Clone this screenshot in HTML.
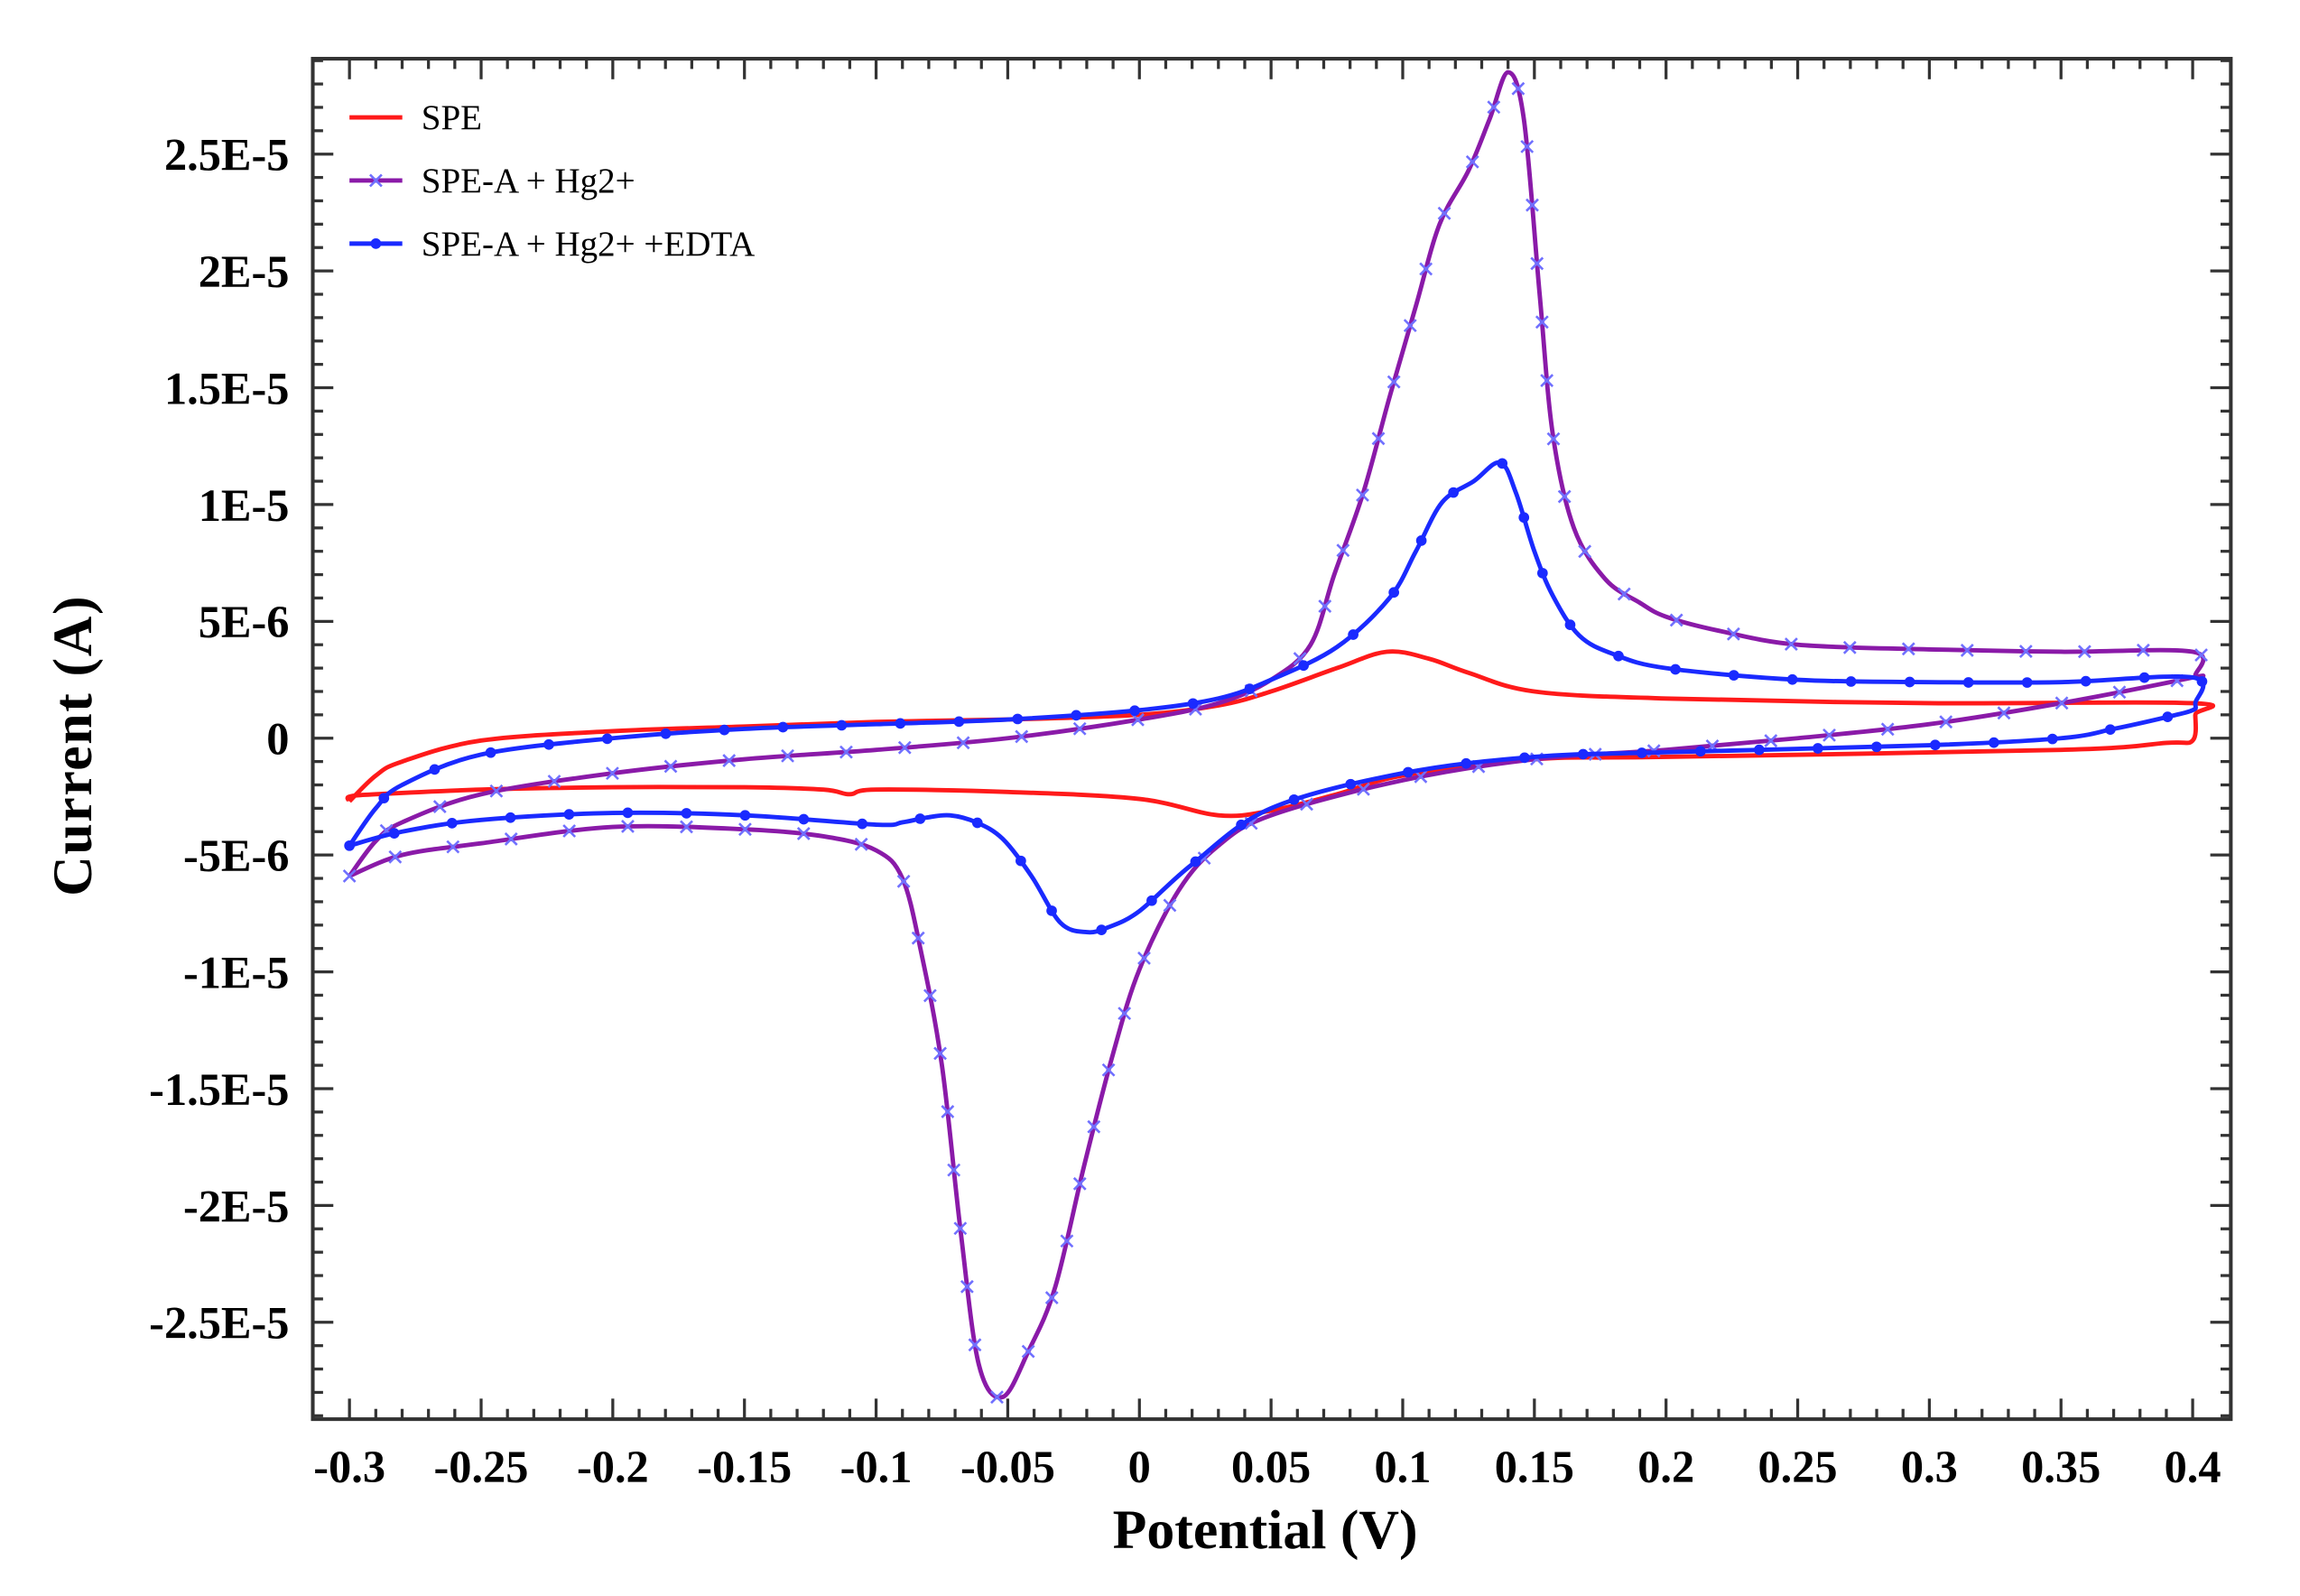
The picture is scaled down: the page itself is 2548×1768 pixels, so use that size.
<!DOCTYPE html>
<html><head><meta charset="utf-8"><style>
html,body{margin:0;padding:0;background:#fff;}
svg{display:block;}
text{font-family:"Liberation Serif",serif;}
</style></head><body>
<svg id="chart" width="2548" height="1768" viewBox="0 0 1567 1087.5" xmlns="http://www.w3.org/2000/svg">
<rect x="0" y="0" width="1567" height="1087.5" fill="#fff"/>
<g id="grid"></g>
<g id="series"></g>
<rect x="213" y="40" width="1307" height="927" fill="none" stroke="#333" stroke-width="2.5"/>
<g id="axes"></g>
<text x="862" y="1055" text-anchor="middle" font-size="38" font-weight="bold">Potential (V)</text>
<text transform="translate(62,508) rotate(-90)" text-anchor="middle" font-size="38" font-weight="bold" letter-spacing="1">Current (A)</text>
<g id="legend"></g>
</svg>
<script>
// ---- data (potential in V, current in µA) ----
const xTicks = [-0.3,-0.25,-0.2,-0.15,-0.1,-0.05,0,0.05,0.1,0.15,0.2,0.25,0.3,0.35,0.4];
const xTickLabels = ["-0.3","-0.25","-0.2","-0.15","-0.1","-0.05","0","0.05","0.1","0.15","0.2","0.25","0.3","0.35","0.4"];
const yTicks = [25,20,15,10,5,0,-5,-10,-15,-20,-25];
const yTickLabels = ["2.5E-5","2E-5","1.5E-5","1E-5","5E-6","0","-5E-6","-1E-5","-1.5E-5","-2E-5","-2.5E-5"];
const seriesNames = ["SPE","SPE-A + Hg2+","SPE-A + Hg2+ +EDTA"];

const speV = [-0.3,-0.29,-0.28,-0.25,-0.2,-0.15,-0.1,-0.05,0,0.03,0.05,0.075,0.094,0.11,0.125,0.15,0.2,0.3,0.4,0.401,0.4,0.39,0.35,0.2,0.15,0.1,0.075,0.05,0.03,0,-0.05,-0.1,-0.11,-0.12,-0.15,-0.2,-0.25,-0.29,-0.3,-0.3];
const speI = [-2.7,-1.6,-1.0,-0.1,0.3,0.5,0.7,0.8,1.0,1.4,2.0,3.0,3.7,3.4,2.8,2.0,1.7,1.5,1.5,1.0,-0.1,-0.2,-0.5,-0.8,-0.9,-1.6,-2.4,-3.1,-3.3,-2.6,-2.3,-2.2,-2.4,-2.2,-2.1,-2.1,-2.2,-2.4,-2.5,-2.7];

const hgV = [-0.3,-0.29,-0.28,-0.25,-0.2,-0.15,-0.1,-0.05,0,0.03,0.05,0.065,0.074,0.085,0.095,0.105,0.114,0.125,0.133,0.140,0.146,0.152,0.157,0.165,0.177,0.19,0.2,0.22,0.25,0.3,0.35,0.4,0.401,0.4,0.35,0.3,0.25,0.2,0.15,0.1,0.05,0.03,0.015,0,-0.01,-0.021,-0.032,-0.042,-0.052,-0.061,-0.068,-0.075,-0.083,-0.09,-0.1,-0.12,-0.15,-0.2,-0.25,-0.28,-0.3];
const hgI = [-5.9,-4.4,-3.6,-2.4,-1.5,-0.9,-0.5,0.0,0.8,1.5,2.5,4.0,7.0,10.5,14.6,18.5,22.0,24.3,26.5,28.5,26.5,19.0,13.0,9.0,6.8,5.8,5.2,4.6,4.0,3.8,3.7,3.7,2.7,2.6,1.5,0.6,0.0,-0.5,-0.9,-1.8,-3.3,-4.6,-6.5,-9.9,-13.5,-18.3,-23.5,-26.2,-28.2,-26.8,-21.0,-14.0,-9.1,-6.0,-4.8,-4.2,-3.9,-3.8,-4.5,-5.0,-5.9];

const edV = [-0.3,-0.29,-0.28,-0.25,-0.2,-0.15,-0.1,-0.05,0,0.03,0.05,0.075,0.095,0.105,0.115,0.127,0.137,0.143,0.15,0.157,0.167,0.18,0.2,0.25,0.3,0.35,0.4,0.401,0.4,0.39,0.37,0.35,0.3,0.2,0.15,0.1,0.05,0.02,0,-0.012,-0.02,-0.03,-0.041,-0.052,-0.062,-0.072,-0.081,-0.09,-0.1,-0.15,-0.2,-0.25,-0.28,-0.3];
const edI = [-4.6,-3.0,-2.0,-0.7,0.0,0.4,0.6,0.8,1.2,1.7,2.5,3.9,6.0,8.0,10.1,11.0,11.8,10.5,8.0,6.1,4.4,3.6,3.0,2.5,2.4,2.4,2.6,1.5,1.2,0.9,0.4,0.0,-0.3,-0.6,-0.8,-1.5,-3.0,-5.4,-7.4,-8.1,-8.3,-7.9,-5.9,-4.3,-3.6,-3.3,-3.4,-3.6,-3.7,-3.3,-3.2,-3.5,-4.0,-4.6];

// ---- scales ----
const X0=238, X1=1494, Y0=503, PERU=79.6/5;
function sx(v){return X0+(v+0.3)/0.7*(X1-X0);}
function sy(i){return Y0-i*PERU;}
const NS="http://www.w3.org/2000/svg";
function mk(tag,attrs,parent){const e=document.createElementNS(NS,tag);for(const k in attrs)e.setAttribute(k,attrs[k]);parent.appendChild(e);return e;}

// ---- axes ----
const axes=document.getElementById('axes');
const L=213,R=1520,T=40,B=967;
for(let k=0;k<=70;k++){
  const v=-0.3+k*0.01; const x=sx(v); const major=k%5===0; const len=major?14:7;
  mk('line',{x1:x,y1:B,x2:x,y2:B-len,stroke:'#333','stroke-width':2},axes);
  mk('line',{x1:x,y1:T,x2:x,y2:T+len,stroke:'#333','stroke-width':2},axes);
}
for(let k=-29;k<=29;k++){
  const y=sy(k); if(y<T||y>B) continue; const major=k%5===0; const len=major?14:7;
  mk('line',{x1:L,y1:y,x2:L+len,y2:y,stroke:'#333','stroke-width':2},axes);
  mk('line',{x1:R,y1:y,x2:R-len,y2:y,stroke:'#333','stroke-width':2},axes);
}
xTicks.forEach((v,i)=>{
  const t=mk('text',{x:sx(v),y:1010,'text-anchor':'middle','font-size':31,'font-weight':'bold'},axes);
  
  
  t.textContent=xTickLabels[i];
});
yTicks.forEach((v,i)=>{
  const t=mk('text',{x:197,y:sy(v)+11,'text-anchor':'end','font-size':31,'font-weight':'bold'},axes);
  
  
  t.textContent=yTickLabels[i];
});

// ---- smooth path ----
function pathFrom(pts){
  let d='M'+pts[0][0].toFixed(2)+','+pts[0][1].toFixed(2);
  for(let i=0;i<pts.length-1;i++){
    const p0=pts[Math.max(0,i-1)],p1=pts[i],p2=pts[i+1],p3=pts[Math.min(pts.length-1,i+2)];
    const c1=[p1[0]+(p2[0]-p0[0])/6,p1[1]+(p2[1]-p0[1])/6];
    const c2=[p2[0]-(p3[0]-p1[0])/6,p2[1]-(p3[1]-p1[1])/6];
    d+='C'+c1[0].toFixed(2)+','+c1[1].toFixed(2)+' '+c2[0].toFixed(2)+','+c2[1].toFixed(2)+' '+p2[0].toFixed(2)+','+p2[1].toFixed(2);
  }
  return d;
}
const series=document.getElementById('series');
function drawSeries(V,I,color,marker,name){
  const pts=V.map((v,i)=>[sx(v),sy(I[i])]);
  const p=mk('path',{d:pathFrom(pts),fill:'none',stroke:color,'stroke-width':3,'stroke-linejoin':'round'},series);
  
  
  if(!marker) return;
  const len=p.getTotalLength(); const step=40;
  for(let s=0;s<len;s+=step){
    const q=p.getPointAtLength(s);
    let m;
    if(marker==='x'){
      m=mk('path',{d:`M${q.x-4},${q.y-4}L${q.x+4},${q.y+4}M${q.x-4},${q.y+4}L${q.x+4},${q.y-4}`,stroke:'#7070ff','stroke-width':1.6},series);
    } else {
      m=mk('circle',{cx:q.x,cy:q.y,r:3.6,fill:color},series);
    }
    
    
  }
}
drawSeries(speV,speI,'#ff1a1a',null,'spe');
drawSeries(hgV,hgI,'#8a1aa8','x','spe-a-hg');
drawSeries(edV,edI,'#1a2aff','o','spe-a-hg-edta');

// ---- legend ----
const lg=document.getElementById('legend');
const lcolors=['#ff1a1a','#8a1aa8','#1a2aff'];
const lmark=[null,'x','o'];
seriesNames.forEach((n,i)=>{
  const y=80+i*43;
  const ln=mk('line',{x1:238,y1:y,x2:274,y2:y,stroke:lcolors[i],'stroke-width':3},lg);
  
  
  if(lmark[i]==='x') mk('path',{d:`M252,${y-4}L260,${y+4}M252,${y+4}L260,${y-4}`,stroke:'#7070ff','stroke-width':1.6},lg);
  if(lmark[i]==='o') mk('circle',{cx:256,cy:y,r:3.6,fill:lcolors[i]},lg);
  const t=mk('text',{x:287,y:y+8,'font-size':24},lg);
  
  
  t.textContent=n;
});
</script>
</body></html>
